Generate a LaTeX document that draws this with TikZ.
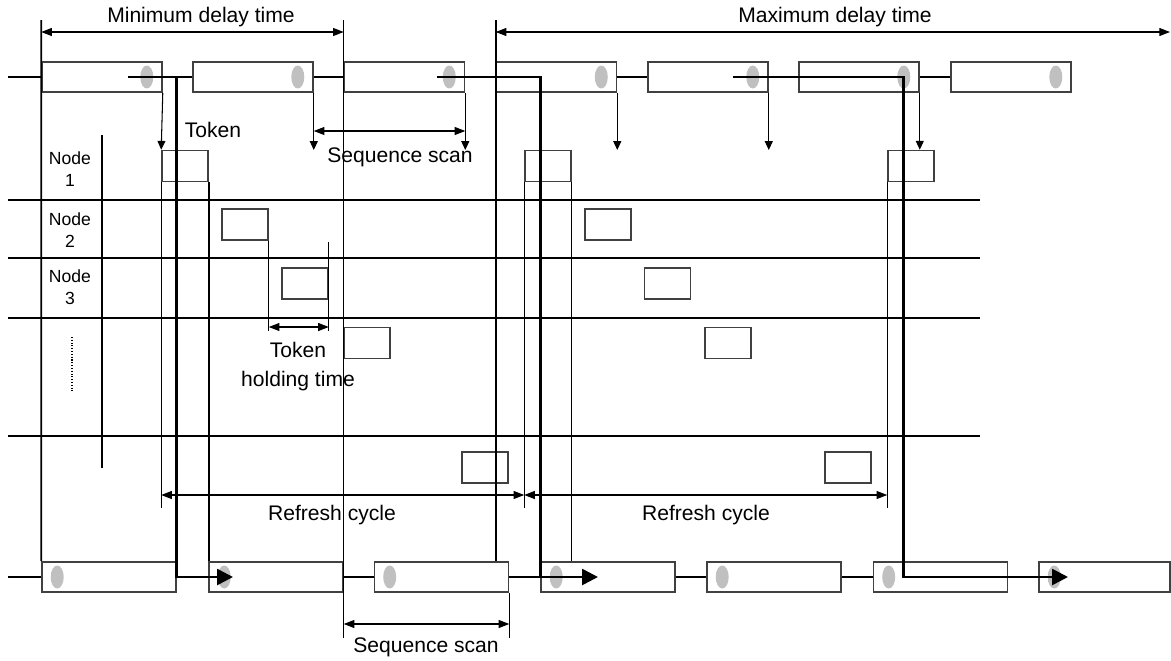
\documentclass[tikz,border=0pt]{standalone}
\usepackage{fontspec}
\setmainfont{Liberation Sans}
\usetikzlibrary{arrows.meta, shapes.geometric, positioning}
\definecolor{slotgray}{HTML}{C0C0C0}
\definecolor{boxedge}{HTML}{404040}
\tikzset{
  % trama sul bus
  topframe/.style={draw=boxedge, line width=0.9pt, minimum width=2.4cm,
    minimum height=0.6cm, inner sep=0pt},
  botframe/.style={topframe, minimum width=2.68cm},
  % token dentro la trama
  slot/.style={ellipse, fill=slotgray, draw=none, minimum width=0.26cm,
    minimum height=0.46cm, inner sep=0pt},
  % finestra di trasmissione di un nodo
  txbox/.style={draw=boxedge, line width=0.9pt, minimum width=0.92cm,
    minimum height=0.62cm, inner sep=0pt},
  % linee
  thinline/.style={line width=0.6pt},
  heavyline/.style={line width=1.1pt},
  tokenpath/.style={line width=1.5pt, ->, >={Triangle[length=9pt,width=9pt]}},
  droparrow/.style={thinline, ->, >={Triangle[length=5pt,width=4.5pt]}},
  dimarrow/.style={thinline, <->, >={Triangle[length=6pt,width=4.5pt]}},
  % etichette
  lbl/.style={font=\fontsize{12}{16.5}\selectfont, inner sep=0pt, align=center},
  nodelbl/.style={font=\fontsize{10}{12.5}\selectfont, align=center, inner sep=0pt},
}

\begin{document}
\begin{tikzpicture}[x=0.02cm, y=-0.02cm]
  \useasboundingbox (0,0) rectangle (1171,660);
  % livelli di riferimento
  \coordinate (top) at (0,20);
  \coordinate (dimy) at (0,32);
  \coordinate (scany) at (0,131);
  \coordinate (slotin) at (0,150);
  \coordinate (hold1) at (0,242);
  \coordinate (holdy) at (0,327);
  \coordinate (holdend) at (0,331);
  \coordinate (refy) at (0,495);
  \coordinate (reftick) at (0,508);
  \coordinate (bscany) at (0,624);
  \coordinate (bot) at (0,638);
  % trame sul bus (sopra e sotto)
  \foreach \i/\cx in {1/102, 2/253, 3/404.5, 4/556.5, 5/708, 6/859, 7/1011}
    \node[topframe] (t\i) at (\cx,77) {};
  \foreach \i/\cx in {1/109, 2/276, 3/441.5, 4/608, 5/774, 6/940.5}
    \node[botframe] (b\i) at (\cx,577) {};
  \node[botframe, minimum width=2.62cm] (b7) at (1104.5,577) {};
  \foreach \i in {1,...,7} {
    \node[slot] (te\i) at ([xshift=-0.32cm]t\i.east) {};
    \node[slot] (be\i) at ([xshift=0.32cm]b\i.west) {};
  }
  \coordinate (tin) at (8,77);
  \coordinate (bin) at (8,577);
  \draw[heavyline] (tin) -- (t1.west);
  \foreach \a/\b in {1/2, 2/3, 3/4, 4/5, 5/6, 6/7}
    \draw[heavyline] (t\a.east) -- (t\b.west);
  \draw[heavyline] (bin) -- (b1.west);
  \foreach \a/\b in {2/3, 3/4, 4/5, 5/6}
    \draw[heavyline] (b\a.east) -- (b\b.west);
  % righe dei nodi
  \foreach \y in {200, 258, 318, 436}
    \draw[heavyline] (8,\y) -- (980,\y);
  \draw[heavyline] (102,135) -- (102,468);
  \node[nodelbl] (lab1) at (70,169) {Node\\1};
  \node[nodelbl] (lab2) at (70,230.5) {Node\\2};
  \node[nodelbl] (lab3) at (70,287.5) {Node\\3};
  \draw[thinline, densely dotted] (72,337) -- (72,393);
  % finestre di trasmissione
  \foreach \n/\cx/\cy in {1a/185/166, 2a/245/224.5, 3a/305/283.5, 4a/367/343,
      5a/485/467.5, 1b/548/166, 2b/608/224.5, 3b/667.5/283.5, 4b/728/343,
      5b/848/467.5, 1c/911/166}
    \node[txbox] (n\n) at (\cx,\cy) {};
  % ritardo minimo e massimo
  \draw[heavyline] (t1.west |- top) -- (b1.north west);
  \draw[thinline] (t3.west |- top) -- (t3.west |- bot);
  \draw[heavyline] (t4.west |- top) -- (t4.west |- b3.north);
  \coordinate (maxend) at (1170,32);
  \draw[dimarrow] (t1.west |- dimy) -- (t3.west |- dimy);
  \draw[dimarrow] (t4.west |- dimy) -- (maxend);
  \node[lbl] (mindelay) at (201,17) {Minimum delay time};
  \node[lbl] (maxdelay) at (835,17) {Maximum delay time};
  % consegna delle trame ai nodi
  \draw[droparrow] (t1.south east) -- (n1a.north west);
  \foreach \i in {2,3,4,5}
    \draw[droparrow] (t\i.south east) -- (t\i.south east |- slotin);
  \draw[droparrow] (t6.south east) -- (t6.south east |- n1c.north);
  \draw[dimarrow] (t2.south east |- scany) -- (t3.south east |- scany);
  \node[lbl] (toklbl) at (213,130) {Token};
  \node[lbl] (scan1) at (400,157) {Sequence scan};
  % linee verticali dei cicli
  \draw[thinline] (n1a.south west) -- (n1a.south west |- reftick);
  \draw[heavyline] (n1a.south east) -- (n1a.south east |- b2.north);
  \draw[thinline] (n1b.south west) -- (n1b.south west |- reftick);
  \draw[thinline] (n1b.south east) -- (n1b.south east |- b4.north);
  \draw[thinline] (n1c.south west) -- (n1c.south west |- reftick);
  % tempo di possesso del token
  \draw[thinline] (n2a.south east) -- (n2a.south east |- holdend);
  \draw[thinline] (n3a.east |- hold1) -- (n3a.east |- holdend);
  \draw[dimarrow] (n2a.east |- holdy) -- (n3a.east |- holdy);
  \node[lbl] (holdlbl) at (298,367) {Token\\holding time};
  % ciclo di refresh
  \draw[dimarrow] (n1a.west |- refy) -- (n1b.west |- refy);
  \draw[dimarrow] (n1b.west |- refy) -- (n1c.west |- refy);
  \node[lbl] (ref1) at (332,515) {Refresh cycle};
  \node[lbl] (ref2) at (706,515) {Refresh cycle};
  % scansione in basso
  \draw[thinline] (b3.south east) -- (b3.east |- bot);
  \draw[dimarrow] (t3.west |- bscany) -- (b3.east |- bscany);
  \node[lbl] (scan2) at (426,647) {Sequence scan};
  % percorso del token
  \coordinate (k1) at (128,77);
  \coordinate (k1e) at (233,577);
  \coordinate (k2) at (437,77);
  \coordinate (k2e) at (598,577);
  \coordinate (k3) at (733,77);
  \coordinate (k3e) at (1068,577);
  \draw[tokenpath] (k1) -| (b1.east) -- (k1e);
  \draw[tokenpath] (k2) -| (b4.west) -- (k2e);
  \draw[tokenpath] (k3) -| (te6.center |- b6.center) -- (k3e);
\end{tikzpicture}
\end{document}
